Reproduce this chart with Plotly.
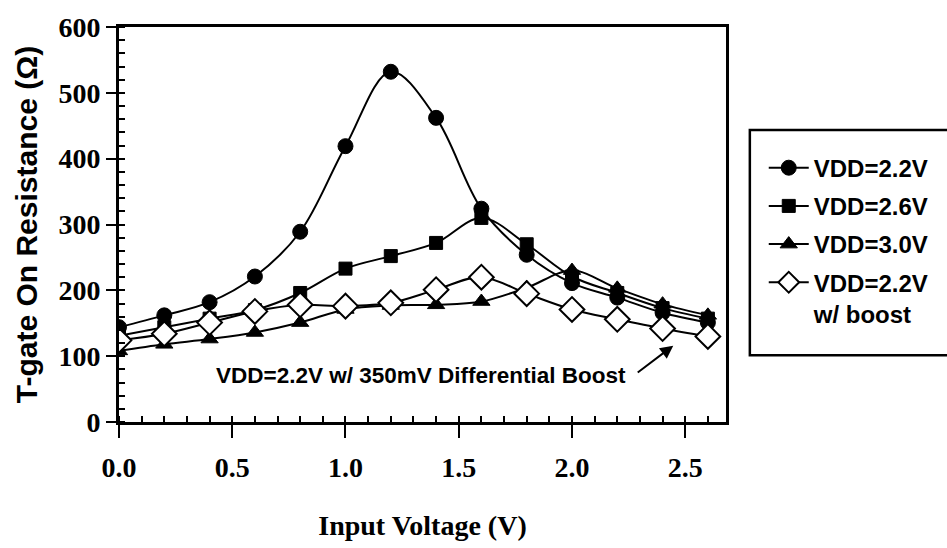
import plotly.graph_objects as go

# ---- data ----
input_voltage = [0.0, 0.2, 0.4, 0.6, 0.8, 1.0, 1.2, 1.4, 1.6, 1.8, 2.0, 2.2, 2.4, 2.6]
vdd_22 = [144, 162, 182, 221, 289, 419, 532, 462, 324, 254, 211, 189, 166, 151]
vdd_26 = [131, 144, 157, 170, 196, 233, 252, 272, 310, 270, 221, 196, 173, 157]
vdd_30 = [108, 118, 126, 136, 151, 171, 177, 178, 183, 204, 230, 203, 179, 162]
vdd_22_boost = [124, 134, 151, 168, 178, 176, 181, 201, 220, 195, 171, 156, 142, 130]

series_names = ["VDD=2.2V", "VDD=2.6V", "VDD=3.0V", "VDD=2.2V<br>w/ boost"]
x_ticks = [0.0, 0.5, 1.0, 1.5, 2.0, 2.5]
x_tick_labels = ["0.0", "0.5", "1.0", "1.5", "2.0", "2.5"]
y_ticks = [0, 100, 200, 300, 400, 500, 600]

SANS = "Liberation Sans, Arial, sans-serif"
SERIF = "Liberation Serif, Times New Roman, serif"

fig = go.Figure()

styles = [
    dict(symbol="circle", size=15, color="black", line=dict(color="black", width=1)),
    dict(symbol="square", size=13, color="black", line=dict(color="black", width=1)),
    dict(symbol="triangle-up", size=15, color="black", line=dict(color="black", width=1)),
    dict(symbol="diamond", size=19, color="white", line=dict(color="black", width=2)),
]
for i, (ys, name, st) in enumerate(zip([vdd_22, vdd_26, vdd_30, vdd_22_boost], series_names, styles)):
    fig.add_trace(go.Scatter(
        x=input_voltage, y=ys, name=name, mode="lines+markers", legendgroup=f"g{i}",
        line=dict(color="black", width=2, shape="spline", smoothing=1.0),
        marker=st,
    ))

fig.update_layout(
    width=947, height=548,
    margin=dict(l=119, r=217, t=20, b=125),
    paper_bgcolor="white", plot_bgcolor="white",
    showlegend=True,
    legend=dict(
        x=(768 - 119) / 611, y=(423 - 141) / 403, xanchor="left", yanchor="top",
        bgcolor="rgba(0,0,0,0)", borderwidth=0,
        font=dict(family=SANS, size=24, color="black", weight="bold"),
        valign="top", itemwidth=40, tracegroupgap=4,
    ),
    xaxis=dict(
        range=[0, 2.68], showgrid=False, zeroline=False,
        showline=True, linecolor="black", linewidth=3, mirror=True,
        tickvals=x_ticks, ticktext=x_tick_labels,
        ticks="outside", ticklen=13, tickwidth=2, tickcolor="black",
        minor=dict(dtick=0.1, ticks="inside", ticklen=6, tickwidth=2, tickcolor="black"),
        tickfont=dict(family=SERIF, size=28, color="black", weight="bold"),
        ticklabelstandoff=5,
        title=dict(text="Input Voltage (V)", standoff=34,
                   font=dict(family=SERIF, size=28, color="black", weight="bold")),
    ),
    yaxis=dict(
        range=[0, 600], showgrid=False, zeroline=False,
        showline=True, linecolor="black", linewidth=3, mirror=True,
        tickvals=y_ticks,
        ticks="outside", ticklen=10, tickwidth=2, tickcolor="black",
        minor=dict(dtick=20, ticks="inside", ticklen=6, tickwidth=2, tickcolor="black"),
        tickfont=dict(family=SERIF, size=28, color="black", weight="bold"),
        title=dict(text="T-gate On Resistance (Ω)", standoff=12,
                   font=dict(family=SANS, size=30, color="black", weight="bold")),
    ),
    shapes=[dict(
        type="rect", xref="paper", yref="paper",
        x0=(754 - 119) / 611, x1=(965 - 119) / 611,
        y0=(423 - 355) / 403, y1=(423 - 125) / 403,
        line=dict(color="black", width=2.5), fillcolor="rgba(0,0,0,0)",
    )],
    annotations=[
        dict(x=1.333, y=70, xref="x", yref="y", showarrow=False,
             text="VDD=2.2V w/ 350mV Differential Boost",
             font=dict(family=SANS, size=22.5, color="black", weight="bold")),
        dict(x=2.447, y=116, xref="x", yref="y", text="", showarrow=True,
             ax=-37, ay=28, arrowhead=2, arrowsize=1.3, arrowwidth=2, arrowcolor="black"),
    ],
)

fig.write_html("out.html")
